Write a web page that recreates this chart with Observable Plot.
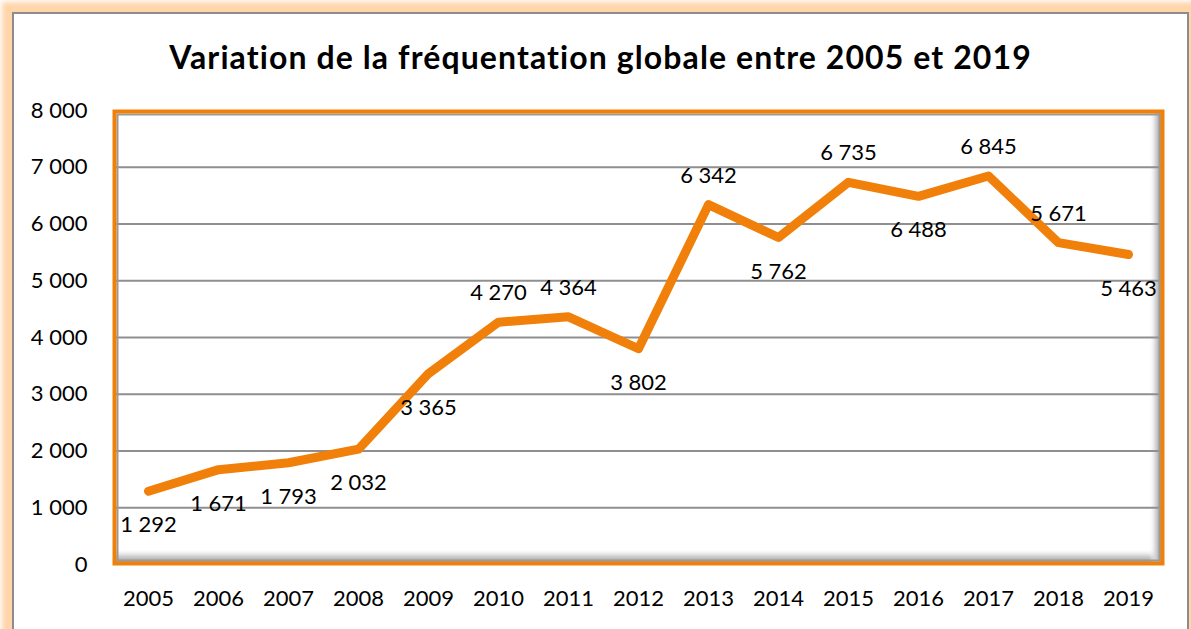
<!DOCTYPE html>
<html><head><meta charset="utf-8">
<script src="https://cdn.jsdelivr.net/npm/d3@7"></script>
<script src="https://cdn.jsdelivr.net/npm/@observablehq/plot@0.6"></script>
<style>
html,body{margin:0;padding:0;background:#fff;overflow:hidden;}
body{font-family:Lato,sans-serif;width:1191px;height:629px;position:relative;}
#frame{position:absolute;left:12px;top:12px;width:1173px;height:660px;border:2px solid #8c8c8c;background:#fff;box-shadow:0 0 5px 10px #FFD6AA;}
#title{height:86px;line-height:86px;text-align:center;font-weight:700;font-size:32px;letter-spacing:1.1px;color:#000;white-space:nowrap;}
#chart svg{display:block;}
</style></head><body>
<div id="frame"><div id="title">Variation de la fréquentation globale entre 2005 et 2019</div><div id="chart"></div></div>
<script>
const years = ["2005","2006","2007","2008","2009","2010","2011","2012","2013","2014","2015","2016","2017","2018","2019"];
const visitors = [1292,1671,1793,2032,3365,4270,4364,3802,6342,5762,6735,6488,6845,5671,5463];
const labelPlacement = ["below","below","below","below","below","above","above","below","above","below","above","below","above","above","below"];
const yTicks = [0,1000,2000,3000,4000,5000,6000,7000,8000];

const data = years.map((y, i) => ({year: y, value: visitors[i], place: labelPlacement[i]}));
const fmt = d3.formatLocale({thousands: "\u00a0", grouping: [3], decimal: ",", currency: ["", " €"]}).format(",d");
const orange = "#F0800A";

const chart = Plot.plot({
  width: 1173,
  height: 525,
  marginLeft: 99,
  marginRight: 24,
  marginTop: 10,
  marginBottom: 61,
  style: {fontFamily: "Lato, sans-serif", fontSize: "22px", color: "#000", background: "transparent", overflow: "visible"},
  x: {type: "point", domain: years, padding: 0.5},
  y: {domain: [0, 8000]},
  marks: [
    Plot.frame({fill: "url(#bevelV)"}),
    Plot.frame({fill: "url(#bevelH)"}),
    Plot.ruleY(yTicks.filter(t => t > 0 && t < 8000), {stroke: "#8f8f8f", strokeWidth: 2}),
    Plot.frame({stroke: "#9a9a9a", strokeWidth: 2, inset: 4}),
    Plot.frame({stroke: orange, strokeWidth: 4, inset: 1}),
    Plot.axisY({ticks: yTicks, tickFormat: fmt, tickSize: 0, tickPadding: 26, fontSize: 22, label: null}),
    Plot.axisX({tickSize: 0, tickPadding: 26, fontSize: 22, label: null}),
    Plot.line(data, {x: "year", y: "value", stroke: orange, strokeWidth: 9, strokeLinejoin: "round", strokeLinecap: "round"}),
    Plot.text(data.filter(d => d.place === "above"), {x: "year", y: "value", text: d => fmt(d.value), dy: -29, fill: "#000", fontSize: 22}),
    Plot.text(data.filter(d => d.place === "below"), {x: "year", y: "value", text: d => fmt(d.value), dy: 34, fill: "#000", fontSize: 22})
  ]
});
chart.insertAdjacentHTML("afterbegin",
  '<defs>' +
  '<linearGradient id="bevelV" x1="0" y1="0" x2="0" y2="1">' +
  '<stop offset="0" stop-color="#ffffff" stop-opacity="0"/>' +
  '<stop offset="0.965" stop-color="#ffffff" stop-opacity="0"/>' +
  '<stop offset="0.98" stop-color="#d8d8d8" stop-opacity="1"/>' +
  '<stop offset="1" stop-color="#8a8a8a" stop-opacity="1"/>' +
  '</linearGradient>' +
  '<linearGradient id="bevelH" x1="0" y1="0" x2="1" y2="0">' +
  '<stop offset="0" stop-color="#ffffff" stop-opacity="0"/>' +
  '<stop offset="0.986" stop-color="#ffffff" stop-opacity="0"/>' +
  '<stop offset="0.993" stop-color="#cfcfcf" stop-opacity="1"/>' +
  '<stop offset="1" stop-color="#8a8a8a" stop-opacity="1"/>' +
  '</linearGradient>' +
  '</defs>');
document.getElementById("chart").appendChild(chart);
</script>
</body></html>
